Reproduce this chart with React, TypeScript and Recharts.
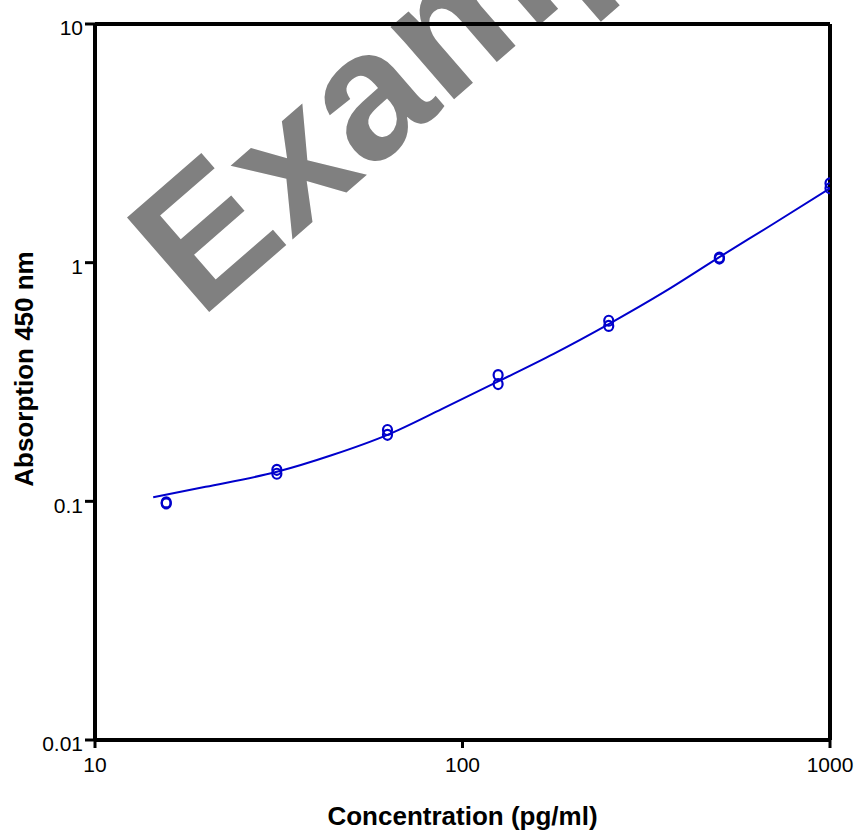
import React from "react";
import { ComposedChart, Line, Scatter, XAxis, YAxis, ReferenceLine } from "recharts";

// standard concentrations (pg/ml) and the two replicate readings
const concentrations = [15.625, 31.25, 62.5, 125, 250, 500, 1000];
const replicateA = [0.099, 0.1355, 0.199, 0.338, 0.571, 1.05, 2.15];
const replicateB = [0.098, 0.1305, 0.19, 0.31, 0.543, 1.04, 2.05];

// fitted curve
const fitConc = [14.4, 20, 31.25, 44, 62.5, 88, 125, 177, 250, 354, 500, 707, 1000];
const fitAbs = [0.104, 0.115, 0.133, 0.156, 0.19, 0.244, 0.318, 0.415, 0.553, 0.754, 1.055, 1.466, 2.05];

const xTicks = [10, 100, 1000];
const yTicks = [0.01, 0.1, 1, 10];

const font = "'Liberation Sans', Arial, sans-serif";
const blue = "#0000cc";

const points = concentrations.flatMap((c, i) => [
    { x: c, y: replicateA[i] },
    { x: c, y: replicateB[i] }
]);
const fit = fitConc.map((c, i) => ({ x: c, y: fitAbs[i] }));

const Ring = (props: any) => (
    <ellipse cx={props.cx} cy={props.cy} rx={4.5} ry={5} fill="none" stroke={blue} strokeWidth={2.2} />
);

const YTitle = () => (
    <text
        x={33}
        y={369}
        transform="rotate(-90 33 369)"
        textAnchor="middle"
        fontSize={26}
        fontWeight="bold"
        fontFamily={font}
        fill="#000"
    >
        Absorption 450 nm
    </text>
);

const App = () => {
    return (
        <div style={{ position: "absolute", left: 0, top: 0, width: 859, height: 830 }}>
            <svg width={859} height={830} style={{ position: "absolute", left: 0, top: 0 }}>
                <text
                    x={200}
                    y={320}
                    transform="rotate(-41 200 320)"
                    fontSize={182}
                    fontWeight="bold"
                    fontFamily={font}
                    fill="#808080"
                >
                    Example
                </text>
            </svg>
            <div style={{ position: "absolute", left: 0, top: 0 }}>
                <ComposedChart width={859} height={830} margin={{ top: 24, right: 29, bottom: 0, left: 0 }}>
                    <XAxis
                        dataKey="x"
                        type="number"
                        scale="log"
                        domain={[10, 1000]}
                        allowDataOverflow
                        ticks={xTicks}
                        interval={0}
                        height={90}
                        tickSize={8}
                        tickMargin={9}
                        axisLine={{ stroke: "#000", strokeWidth: 4 }}
                        tickLine={{ stroke: "#000", strokeWidth: 3 }}
                        tick={{ fill: "#000", fontSize: 21, fontFamily: font }}
                        label={{
                            value: "Concentration (pg/ml)",
                            position: "insideBottom",
                            offset: 5,
                            fontSize: 26,
                            fontWeight: "bold",
                            fill: "#000",
                            fontFamily: font
                        }}
                    />
                    <YAxis
                        type="number"
                        scale="log"
                        domain={[0.01, 10]}
                        allowDataOverflow
                        ticks={yTicks}
                        interval={0}
                        width={95}
                        tickSize={10}
                        tickMargin={2}
                        axisLine={{ stroke: "#000", strokeWidth: 4 }}
                        tickLine={{ stroke: "#000", strokeWidth: 3 }}
                        tick={{ fill: "#000", fontSize: 21, fontFamily: font, dy: 4 }}
                        label={<YTitle />}
                    />
                    <ReferenceLine y={10} stroke="#000" strokeWidth={4} />
                    <ReferenceLine x={1000} stroke="#000" strokeWidth={4} />
                    <Line
                        data={fit}
                        dataKey="y"
                        type="monotone"
                        stroke={blue}
                        strokeWidth={2}
                        dot={false}
                        activeDot={false}
                        isAnimationActive={false}
                    />
                    <Scatter data={points} dataKey="y" shape={Ring} isAnimationActive={false} />
                </ComposedChart>
            </div>
        </div>
    );
};

export default App;
